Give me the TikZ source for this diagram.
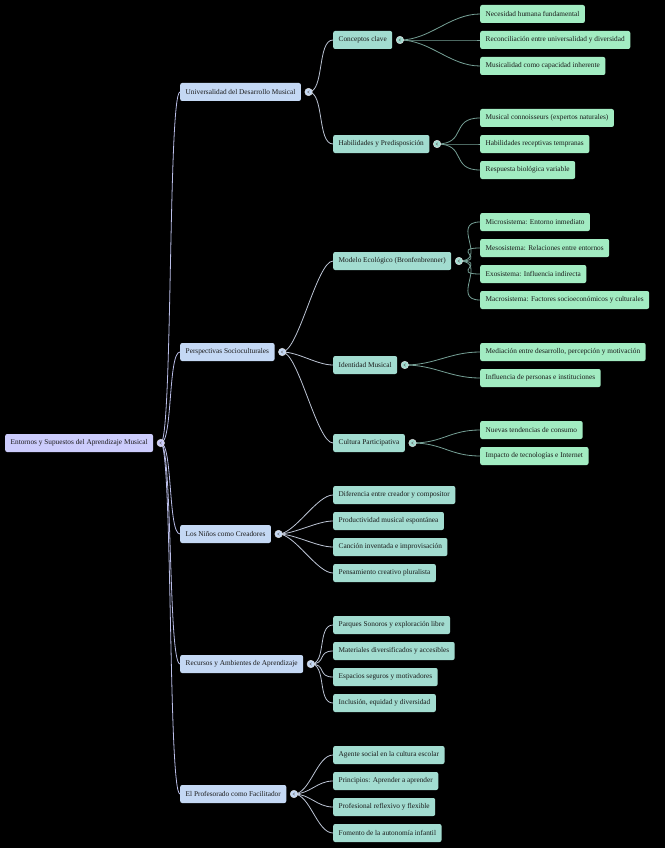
\documentclass[tikz,border=0pt]{standalone}
\usepackage{fontspec}
\setmainfont{Liberation Serif}
\definecolor{rootfill}{RGB}{204,204,252}
\definecolor{onefill}{RGB}{196,216,244}
\definecolor{twofill}{RGB}{162,220,208}
\definecolor{leaffill}{RGB}{162,236,194}
\definecolor{rootline}{RGB}{186,190,232}
\definecolor{oneline}{RGB}{188,196,212}
\definecolor{leafline}{RGB}{118,160,150}
\tikzset{
  box/.style={rounded corners=2pt, minimum height=18pt, inner xsep=5.5pt, inner ysep=0pt,
    anchor=west, text=black!90, font=\fontsize{7.3}{8}\selectfont},
  rootbox/.style={box, fill=rootfill},
  onebox/.style={box, fill=onefill},
  twobox/.style={box, fill=twofill},
  leafbox/.style={box, fill=leaffill},
  knob/.style={circle, inner sep=0pt, minimum size=7.5pt, draw=white!85!black, line width=0.5pt},
  edge/.style={line width=0.8pt},
}
\begin{document}
\begin{tikzpicture}[x=1pt,y=-1pt]
	\fill[black] (0,0) rectangle (665,848);
	\useasboundingbox (0,0) rectangle (665,848);
	% root and first level
	\node[rootbox] (root) at (5,443) {Entornos y Supuestos del Aprendizaje Musical};
	\node[onebox] (uni) at (180,92) {Universalidad del Desarrollo Musical};
	\node[onebox] (soc) at (180,352) {Perspectivas Socioculturales};
	\node[onebox] (nin) at (180,534) {Los Niños como Creadores};
	\node[onebox] (rec) at (180,664) {Recursos y Ambientes de Aprendizaje};
	\node[onebox] (pro) at (180,794) {El Profesorado como Facilitador};
	% second level
	\node[twobox] (con) at (333,40) {Conceptos clave};
	\node[twobox] (hab) at (333,144) {Habilidades y Predisposición};
	\node[twobox] (eco) at (333,261) {Modelo Ecológico (Bronfenbrenner)};
	\node[twobox] (ide) at (333,365) {Identidad Musical};
	\node[twobox] (cul) at (333,443) {Cultura Participativa};
	\node[twobox] (dif) at (333,495) {Diferencia entre creador y compositor};
	\node[twobox] (prd) at (333,521) {Productividad musical espontánea};
	\node[twobox] (can) at (333,547) {Canción inventada e improvisación};
	\node[twobox] (pen) at (333,573) {Pensamiento creativo pluralista};
	\node[twobox] (par) at (333,625) {Parques Sonoros y exploración libre};
	\node[twobox] (mat) at (333,651) {Materiales diversificados y accesibles};
	\node[twobox] (esp) at (333,677) {Espacios seguros y motivadores};
	\node[twobox] (inc) at (333,703) {Inclusión, equidad y diversidad};
	\node[twobox] (age) at (333,755) {Agente social en la cultura escolar};
	\node[twobox] (pri) at (333,781) {Principios: Aprender a aprender};
	\node[twobox] (ref) at (333,807) {Profesional reflexivo y flexible};
	\node[twobox] (fom) at (333,833) {Fomento de la autonomía infantil};
	% leaves
	\node[leafbox] (nec) at (480,14) {Necesidad humana fundamental};
	\node[leafbox] (rcn) at (480,40) {Reconciliación entre universalidad y diversidad};
	\node[leafbox] (mus) at (480,66) {Musicalidad como capacidad inherente};
	\node[leafbox] (cnn) at (480,118) {Musical connoisseurs (expertos naturales)};
	\node[leafbox] (rcp) at (480,144) {Habilidades receptivas tempranas};
	\node[leafbox] (res) at (480,170) {Respuesta biológica variable};
	\node[leafbox] (mic) at (480,222) {Microsistema: Entorno inmediato};
	\node[leafbox] (mes) at (480,248) {Mesosistema: Relaciones entre entornos};
	\node[leafbox] (exo) at (480,274) {Exosistema: Influencia indirecta};
	\node[leafbox] (mac) at (480,300) {Macrosistema: Factores socioeconómicos y culturales};
	\node[leafbox] (med) at (480,352) {Mediación entre desarrollo, percepción y motivación};
	\node[leafbox] (inf) at (480,378) {Influencia de personas e instituciones};
	\node[leafbox] (nue) at (480,430) {Nuevas tendencias de consumo};
	\node[leafbox] (imp) at (480,456) {Impacto de tecnologías e Internet};
	% knobs
	\foreach \n in {root,uni,soc,nin,rec,pro,con,hab,eco,ide,cul}
	  \coordinate (\n K) at ([xshift=7.5pt]\n.east);
	% connectors
	\foreach \c in {uni,soc,nin,rec,pro}
	  \draw[edge, rootline] (rootK) .. controls +(12,0) and +(-12,0) .. (\c.west);
	\foreach \p/\c in {uni/con,uni/hab,soc/eco,soc/ide,soc/cul,nin/dif,nin/prd,nin/can,nin/pen,
	                   rec/par,rec/mat,rec/esp,rec/inc,pro/age,pro/pri,pro/ref,pro/fom}
	  \draw[edge, oneline] (\p K) .. controls +(16,0) and +(-16,0) .. (\c.west);
	\foreach \p/\c in {con/nec,con/rcn,con/mus,hab/cnn,hab/rcp,hab/res,eco/mic,eco/mes,eco/exo,eco/mac,
	                   ide/med,ide/inf,cul/nue,cul/imp}
	  \draw[edge, leafline] (\p K) .. controls +(30,0) and +(-30,0) .. (\c.west);
	\foreach \n/\f in {root/rootfill,uni/onefill,soc/onefill,nin/onefill,rec/onefill,pro/onefill,
	                   con/twofill,hab/twofill,eco/twofill,ide/twofill,cul/twofill}
	  {\node[knob, fill=\f] at (\n K) {};
	   \draw[black!60, line width=0.4pt] ([shift={(1,-1.3)}]\n K) -- ([xshift=-1]\n K) -- ([shift={(1,1.3)}]\n K);}
\end{tikzpicture}
\end{document}
